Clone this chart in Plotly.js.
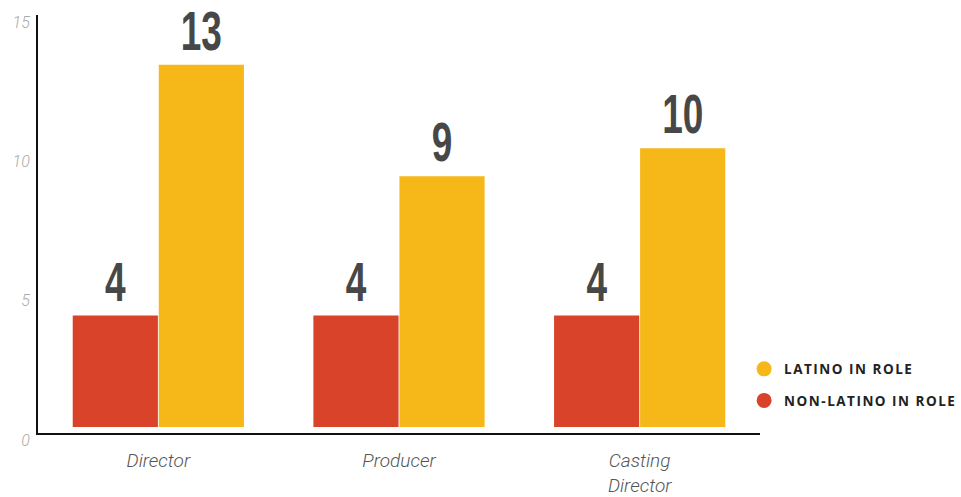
<!DOCTYPE html>
<html>
<head>
<meta charset="utf-8">
<script src="https://cdn.plot.ly/plotly-3.0.1.min.js"></script>
<style>
  html, body { margin: 0; padding: 0; background: #fff; }
  #chart { width: 961px; height: 497px; }
  .legendtext { letter-spacing: 1.5px; }
</style>
</head>
<body>
<div id="chart"></div>
<script>
const categories = ["Director", "Producer", "Casting<br>Director"];
const nonLatino = [4, 4, 4];
const latino = [13, 9, 10];
const seriesNames = ["NON-LATINO IN ROLE", "LATINO IN ROLE"];
const yTicks = [0, 5, 10, 15];

const RED = "#D9432A";
const YELLOW = "#F6B719";
const BASE = 0.215;
const labelFont = { family: "Liberation Sans, Arial, sans-serif", size: 56, color: "#474747", weight: 700 };

const traces = [
  {
    type: "bar", x: categories, y: nonLatino, base: nonLatino.map(() => BASE),
    marker: { color: RED }, text: nonLatino.map(String), textposition: "outside",
    textfont: labelFont, cliponaxis: false, showlegend: false, hoverinfo: "skip"
  },
  {
    type: "bar", x: categories, y: latino, base: latino.map(() => BASE),
    marker: { color: YELLOW }, text: latino.map(String), textposition: "outside",
    textfont: labelFont, cliponaxis: false, showlegend: false, hoverinfo: "skip"
  },
  {
    type: "scatter", mode: "markers", x: [null], y: [null], name: seriesNames[1],
    legendgroup: "a", marker: { color: YELLOW, size: 15, symbol: "circle" }
  },
  {
    type: "scatter", mode: "markers", x: [null], y: [null], name: seriesNames[0],
    legendgroup: "b", marker: { color: RED, size: 15, symbol: "circle" }
  }
];

const layout = {
  width: 961, height: 497,
  margin: { l: 38, r: 201, t: 15, b: 64, pad: 0, autoexpand: false },
  paper_bgcolor: "#fff", plot_bgcolor: "#fff",
  barmode: "group", bargap: 0.285, bargroupgap: 0.01,
  xaxis: {
    type: "category", showline: true, linecolor: "#111", linewidth: 2,
    showgrid: false, zeroline: false, ticks: "", ticklabelstandoff: 9,
    tickfont: { family: "Roboto, sans-serif", size: 19, color: "#555", style: "italic", weight: 300 }
  },
  yaxis: {
    range: [0, 15], showline: true, linecolor: "#111", linewidth: 2,
    showgrid: false, zeroline: false, ticks: "", tickvals: yTicks,
    ticklabelshift: 7, ticklabelstandoff: 3,
    tickfont: { family: "Roboto, sans-serif", size: 16, color: "#aaa", style: "italic", weight: 300 }
  },
  showlegend: true,
  legend: {
    x: 0.978, xanchor: "left", y: 0.19, yanchor: "top",
    traceorder: "grouped", tracegroupgap: 11,
    font: { family: "Open Sans, sans-serif", size: 13.5, color: "#222", weight: 700 },
    bgcolor: "rgba(0,0,0,0)", itemsizing: "trace"
  }
};

Plotly.newPlot("chart", traces, layout, { displayModeBar: false, staticPlot: true }).then(gd => {
  // condense the big value labels horizontally
  gd.querySelectorAll(".barlayer text.bartext").forEach(t => {
    const bb = t.getBBox();
    const cx = bb.x + bb.width / 2;
    const cur = t.getAttribute("transform") || "";
    t.setAttribute("transform", cur + ` translate(${cx},0) scale(0.66,1) translate(${-cx},0)`);
  });
});
</script>
</body>
</html>
